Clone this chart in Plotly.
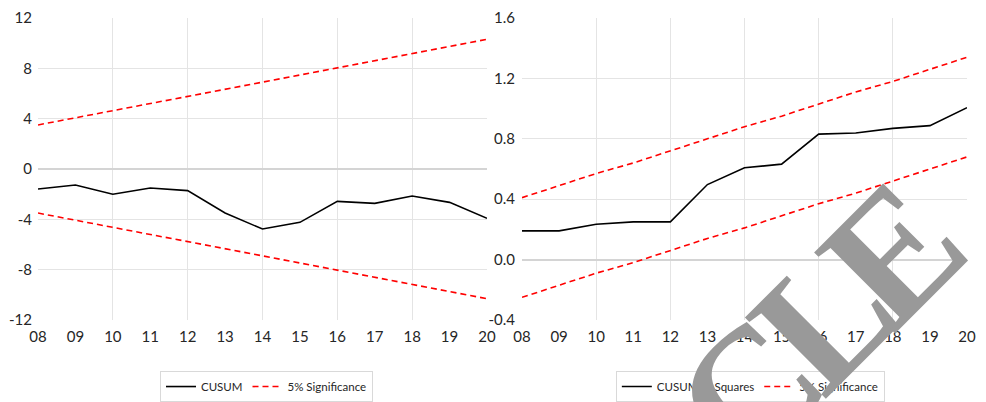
import plotly.graph_objects as go

years = [2008, 2009, 2010, 2011, 2012, 2013, 2014, 2015, 2016, 2017, 2018, 2019, 2020]
year_labels = ["08", "09", "10", "11", "12", "13", "14", "15", "16", "17", "18", "19", "20"]

cusum = [-1.59, -1.27, -2.0, -1.51, -1.72, -3.5, -4.77, -4.24, -2.57, -2.73, -2.15, -2.65, -3.92]
cusum_upper = [3.5, 4.07, 4.64, 5.2, 5.77, 6.34, 6.9, 7.47, 8.04, 8.6, 9.17, 9.74, 10.31]
cusum_lower = [-3.5, -4.07, -4.64, -5.2, -5.77, -6.34, -6.9, -7.47, -8.04, -8.6, -9.17, -9.74, -10.31]

cusumsq = [0.19, 0.19, 0.234, 0.25, 0.25, 0.497, 0.608, 0.632, 0.831, 0.838, 0.869, 0.887, 1.006]
cusumsq_upper = [0.41, 0.49, 0.57, 0.64, 0.72, 0.80, 0.88, 0.95, 1.03, 1.11, 1.18, 1.26, 1.34]
cusumsq_lower = [-0.25, -0.17, -0.09, -0.02, 0.06, 0.14, 0.21, 0.29, 0.37, 0.44, 0.52, 0.60, 0.68]

left_ticks = [-12, -8, -4, 0, 4, 8, 12]
left_tick_labels = ["-12", "-8", "-4", "0", "4", "8", "12"]
right_ticks = [-0.4, 0.0, 0.4, 0.8, 1.2, 1.6]
right_tick_labels = ["-0.4", "0.0", "0.4", "0.8", "1.2", "1.6"]
grid_years = [2010, 2012, 2014, 2016, 2018, 2020]

watermark_letters = ["C", "L", "E"]

FONT = "Lato, Open Sans, sans-serif"
RED = "#ff0000"
DASH = "6px,4px"
TXT = "#262626"

tickfont = dict(family=FONT, size=15, color=TXT)
legfont = dict(family=FONT, size=11.5, color=TXT)

fig = go.Figure()

fig.add_trace(go.Scatter(x=years, y=cusum, mode="lines", name="CUSUM",
                         line=dict(color="black", width=1.6), xaxis="x", yaxis="y", legend="legend"))
fig.add_trace(go.Scatter(x=years, y=cusum_upper, mode="lines", name="5% Significance",
                         line=dict(color=RED, width=1.6, dash=DASH), xaxis="x", yaxis="y", legend="legend"))
fig.add_trace(go.Scatter(x=years, y=cusum_lower, mode="lines", name="5% Significance", showlegend=False,
                         line=dict(color=RED, width=1.6, dash=DASH), xaxis="x", yaxis="y", legend="legend"))

fig.add_trace(go.Scatter(x=years, y=cusumsq, mode="lines", name="CUSUM of Squares",
                         line=dict(color="black", width=1.6), xaxis="x2", yaxis="y2", legend="legend2"))
fig.add_trace(go.Scatter(x=years, y=cusumsq_upper, mode="lines", name="5% Significance",
                         line=dict(color=RED, width=1.6, dash=DASH), xaxis="x2", yaxis="y2", legend="legend2"))
fig.add_trace(go.Scatter(x=years, y=cusumsq_lower, mode="lines", name="5% Significance", showlegend=False,
                         line=dict(color=RED, width=1.6, dash=DASH), xaxis="x2", yaxis="y2", legend="legend2"))

xcommon = dict(range=[2008, 2020], tickvals=years, ticktext=year_labels, showgrid=False,
               zeroline=False, showline=False, ticks="", tickfont=tickfont, ticklabelstandoff=6,
               ticklabeloverflow="allow",
               minor=dict(tickvals=grid_years, showgrid=True, gridcolor="#e4e4e4", gridwidth=1, ticks=""))
ycommon = dict(showgrid=True, gridcolor="#e4e4e4", gridwidth=1, zeroline=True, zerolinecolor="#d4d4d4",
               zerolinewidth=2, showline=False, ticks="", tickfont=tickfont, ticklabeloverflow="allow")

wm_font = dict(family="Liberation Serif, DejaVu Serif, serif", size=175, color="#999999")
wm_pos = [(0.7653, -0.2384), (0.8450, 0.0066), (0.9203, 0.2252)]
annotations = [dict(text="<b>%s</b>" % ch, x=px, y=py, xref="paper", yref="paper",
                    xanchor="center", yanchor="middle", showarrow=False, textangle=-45, font=wm_font)
               for ch, (px, py) in zip(watermark_letters, wm_pos)]

fig.update_layout(
    width=970, height=394,
    margin=dict(l=30, r=11, t=10, b=82, autoexpand=False),
    paper_bgcolor="white", plot_bgcolor="white",
    font=dict(family=FONT, color=TXT),
    xaxis=dict(domain=[0, 0.4833], anchor="y", **xcommon),
    yaxis=dict(domain=[0, 1], anchor="x", range=[-12, 12], tickvals=left_ticks, ticktext=left_tick_labels,
               ticklabelstandoff=5, **ycommon),
    xaxis2=dict(domain=[0.521, 1], anchor="y2", **xcommon),
    yaxis2=dict(domain=[0, 1], anchor="x2", range=[-0.4, 1.6], tickvals=right_ticks, ticktext=right_tick_labels,
                ticklabelstandoff=6, **ycommon),
    legend=dict(orientation="h", x=0.1313, xanchor="left", y=-0.169, yanchor="top",
                bordercolor="#d9d9d9", borderwidth=1, font=legfont, bgcolor="white"),
    legend2=dict(orientation="h", x=0.622, xanchor="left", y=-0.169, yanchor="top",
                 bordercolor="#d9d9d9", borderwidth=1, font=legfont, bgcolor="white"),
    annotations=annotations,
)

fig.write_html("out.html")
